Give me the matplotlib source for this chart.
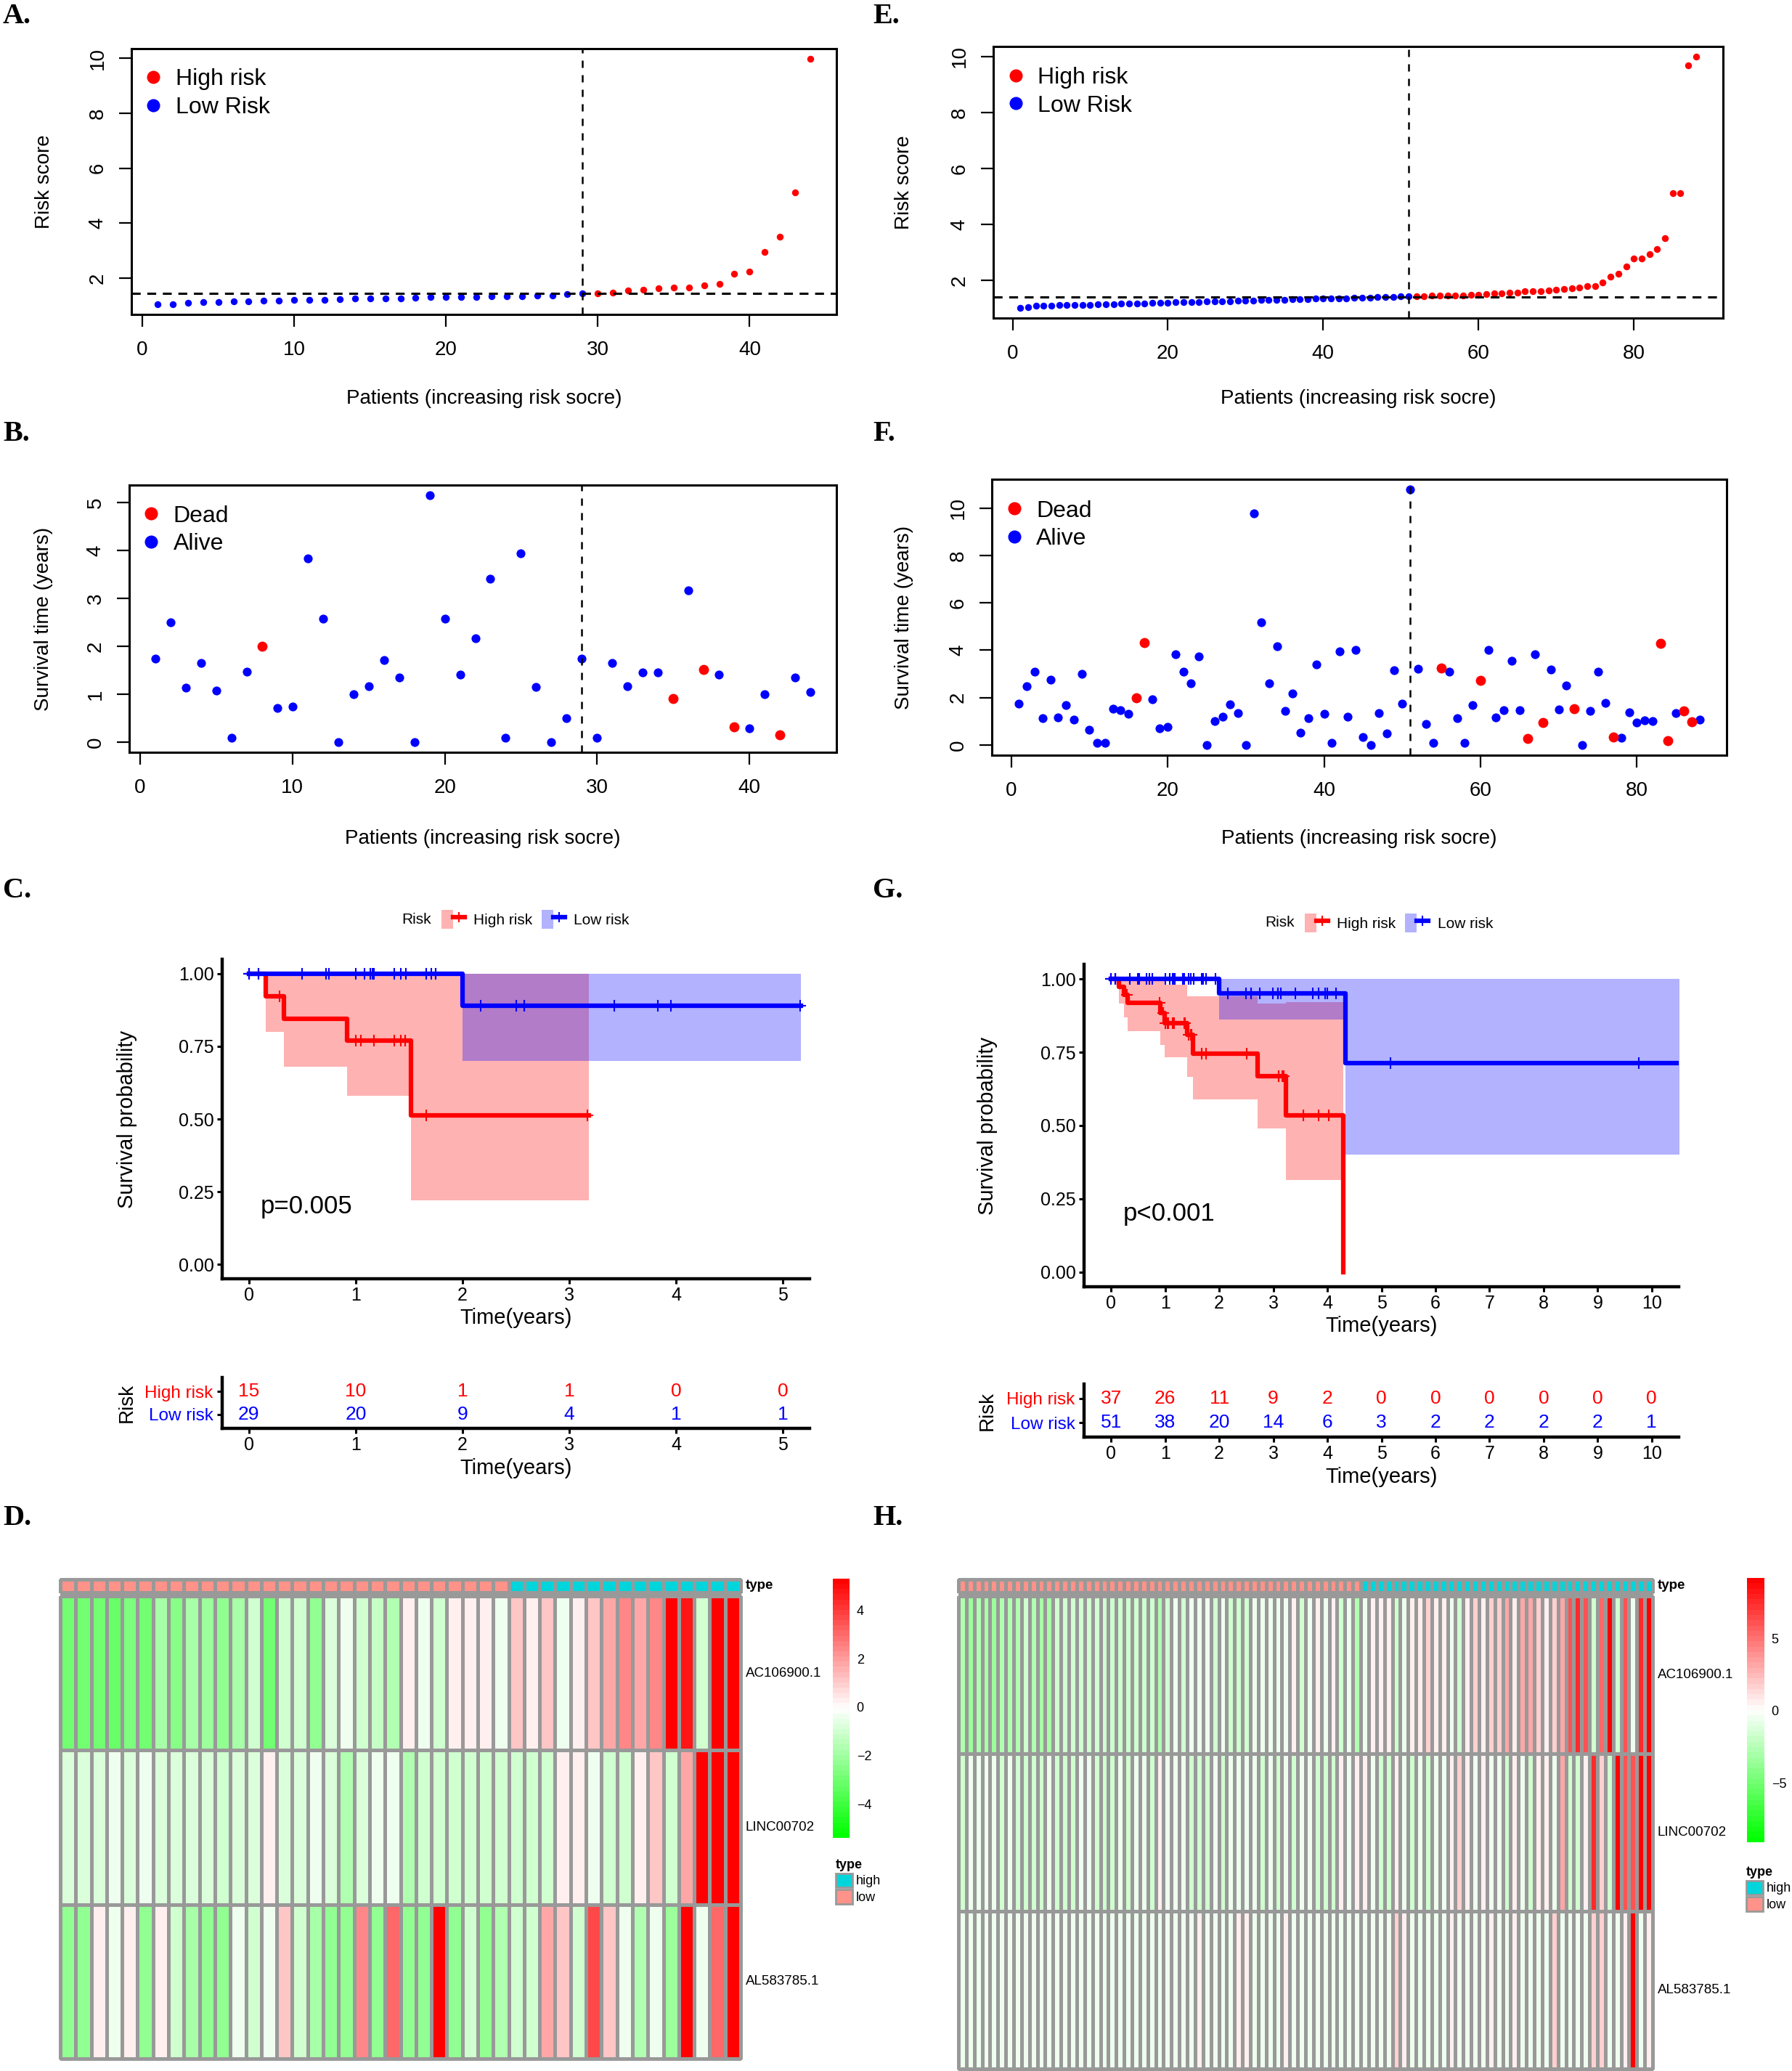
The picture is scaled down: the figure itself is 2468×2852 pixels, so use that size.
import numpy as np
import matplotlib

matplotlib.use("Agg")

import matplotlib.pyplot as plt
from matplotlib.colors import LinearSegmentedColormap, ListedColormap
from matplotlib.lines import Line2D
from matplotlib.patches import Patch
from matplotlib.legend_handler import HandlerTuple
from matplotlib.ticker import FormatStrFormatter

plt.rcParams["font.family"] = "Liberation Sans"

# ===========================
# VALUES
# ===========================

# A. training set: risk score per patient (sorted)
risk_a_low = [1.04, 1.05, 1.11, 1.12, 1.13, 1.15, 1.16, 1.19, 1.19, 1.20,
              1.20, 1.22, 1.23, 1.25, 1.26, 1.27, 1.27, 1.28, 1.31, 1.31,
              1.32, 1.32, 1.33, 1.34, 1.35, 1.36, 1.38, 1.41, 1.44]
risk_a_high = [1.46, 1.48, 1.56, 1.58, 1.63, 1.66, 1.66, 1.74, 1.80, 2.15,
               2.25, 2.96, 3.52, 5.13, 9.99]
cut_a = 1.44

# E. validation set: risk score per patient (sorted)
risk_e_low = [1.02, 1.04, 1.10, 1.11, 1.11, 1.12, 1.12, 1.13, 1.13, 1.14,
              1.15, 1.16, 1.16, 1.17, 1.18, 1.19, 1.19, 1.20, 1.21, 1.21,
              1.22, 1.23, 1.23, 1.24, 1.25, 1.25, 1.26, 1.27, 1.28, 1.29,
              1.29, 1.30, 1.31, 1.31, 1.32, 1.33, 1.33, 1.34, 1.35, 1.35,
              1.36, 1.37, 1.37, 1.38, 1.39, 1.39, 1.40, 1.41, 1.42, 1.43, 1.44]
risk_e_high = [1.45, 1.45, 1.46, 1.46, 1.46, 1.47, 1.47, 1.48, 1.50, 1.52,
               1.54, 1.55, 1.56, 1.58, 1.61, 1.63, 1.63, 1.64, 1.67, 1.70,
               1.73, 1.76, 1.79, 1.81, 1.92, 2.14, 2.25, 2.50, 2.78, 2.80,
               2.95, 3.12, 3.52, 5.12, 5.13, 9.68, 10.0]
cut_e = 1.42

# B. survival time (years), same patient order as A; dead = patient numbers
time_b = [1.75, 2.50, 1.14, 1.66, 1.08, 0.09, 1.47, 2.00, 0.72, 0.75,
          3.83, 2.58, 0.00, 1.00, 1.17, 1.71, 1.36, 0.00, 5.16, 2.58,
          1.42, 2.17, 3.42, 0.09, 3.95, 1.16, 0.00, 0.50, 1.75, 0.09,
          1.66, 1.17, 1.46, 1.46, 0.92, 3.17, 1.52, 1.42, 0.33, 0.29,
          1.00, 0.16, 1.36, 1.05]
dead_b = [8, 35, 37, 39, 42]

# F. survival time (years), same patient order as E
time_f = [1.75, 2.49, 3.09, 1.14, 2.75, 1.16, 1.67, 1.08, 2.99, 0.65,
          0.08, 0.08, 1.53, 1.47, 1.32, 2.00, 4.32, 1.93, 0.71, 0.76,
          3.84, 3.08, 2.59, 3.73, 0.00, 1.00, 1.18, 1.70, 1.35, 0.00,
          9.76, 5.17, 2.59, 4.16, 1.43, 2.16, 0.52, 1.14, 3.41, 1.32,
          0.08, 3.96, 1.18, 4.00, 0.35, 0.00, 1.34, 0.49, 3.14, 1.75,
          10.78, 3.20, 0.90, 0.08, 3.25, 3.10, 1.14, 0.08, 1.67, 2.73,
          4.02, 1.16, 1.47, 3.55, 1.47, 0.26, 3.84, 0.94, 3.17, 1.49,
          2.51, 1.53, 0.00, 1.43, 3.10, 1.76, 0.35, 0.29, 1.37, 0.96,
          1.05, 1.00, 4.30, 0.18, 1.35, 1.43, 0.99, 1.06]
dead_f = [16, 17, 55, 60, 66, 68, 72, 77, 83, 84, 86, 87]

# C. Kaplan-Meier steps with 95% CI (training set)
km_c_high_t = [0, 0.16, 0.33, 0.92, 1.52, 3.18]
km_c_high_s = [1.0, 0.923, 0.846, 0.769, 0.513, 0.513]
km_c_high_lo = [1.0, 0.80, 0.68, 0.58, 0.22, 0.22]
km_c_high_hi = [1.0, 1.0, 1.0, 1.0, 1.0, 1.0]
km_c_low_t = [0, 2.0, 5.17]
km_c_low_s = [1.0, 0.889, 0.889]
km_c_low_lo = [1.0, 0.70, 0.70]
km_c_low_hi = [1.0, 1.0, 1.0]
years_c = [0, 1, 2, 3, 4, 5]
at_risk_c_high = [15, 10, 1, 1, 0, 0]
at_risk_c_low = [29, 20, 9, 4, 1, 1]

# G. Kaplan-Meier steps with 95% CI (validation set)
km_g_high_t = [0, 0.14, 0.24, 0.31, 0.91, 0.99, 1.41, 1.52, 2.71, 3.24, 4.29]
km_g_high_s = [1.0, 0.973, 0.946, 0.919, 0.885, 0.850, 0.810, 0.745, 0.668, 0.534, 0.0]
km_g_high_lo = [1.0, 0.917, 0.869, 0.821, 0.776, 0.733, 0.666, 0.589, 0.490, 0.313, 0.313]
km_g_high_hi = [1.0, 1.0, 1.0, 1.0, 1.0, 0.98, 0.94, 0.94, 0.915, 0.92, 0.92]
km_g_low_t = [0, 2.0, 4.34, 10.78]
km_g_low_s = [1.0, 0.952, 0.714, 0.714]
km_g_low_lo = [1.0, 0.861, 0.401, 0.401]
km_g_low_hi = [1.0, 1.0, 1.0, 1.0]
years_g = [0, 1, 2, 3, 4, 5, 6, 7, 8, 9, 10]
at_risk_g_high = [37, 26, 11, 9, 2, 0, 0, 0, 0, 0, 0]
at_risk_g_low = [51, 38, 20, 14, 6, 3, 2, 2, 2, 2, 1]

# D / H. heatmap values per lncRNA (columns = patients in risk order)
genes = ["AC106900.1", "LINC00702", "AL583785.1"]
heat_d_ac = [-3.0, -3.0, -3.0, -3.1, -2.7, -3.0, -1.8, -2.6, -1.8, -2.0,
             -2.4, -1.9, -1.0, -3.0, -1.0, -1.0, -2.4, -0.9, -0.3, -1.0,
             -1.2, -1.7, 0.35, -0.3, -1.0, 0.35, 0.35, 0.35, -0.3, 1.05,
             0.35, 1.05, -0.3, 0.35, 1.05, 1.75, 2.5, 1.75, 2.5, 5.3,
             4.8, -1.0, 5.3, 5.3]
heat_d_linc = [-0.9, -0.9, -0.9, -0.3, -0.9, -0.3, -0.9, -0.9, -0.9, -0.9,
               -1.0, -0.9, -0.9, 0.35, -0.9, -0.9, -0.3, -0.9, -1.7, -0.9,
               -0.3, -0.3, -1.7, -1.0, -1.0, -1.0, -1.0, -1.0, -1.0, -1.0,
               -1.0, -1.0, 0.35, 0.35, -0.3, -1.0, -1.0, 0.35, 1.05, -1.0,
               1.75, 5.3, 5.3, 5.3]
heat_d_al = [-2.4, -2.4, 0.35, -0.3, 0.35, -2.4, 0.35, -1.0, -1.8, -2.4,
             -2.4, -0.3, -1.0, -0.3, 1.05, -1.0, -1.8, -2.4, -2.4, 2.5,
             -2.4, 3.0, -2.4, -2.4, 5.3, -2.4, -1.0, -2.4, -1.7, -1.0,
             -1.0, 1.75, 1.05, -1.0, 3.6, 1.05, -0.3, -1.7, -0.3, -2.0,
             5.3, -0.3, 3.0, 5.3]
type_d = ["low"] * 29 + ["high"] * 15

heat_h_ac = [-2.8, -3.6, -2.8, -3.1, -3.6, -2.8, -2.8, -2.8, -1.7, -2.8,
             -3.1, -3.1, -1.7, -1.7, -1.7, -1.7, -1.7, -1.7, -1.7, -1.7,
             -1.7, -1.7, -1.7, -1.7, -1.7, -2.8, -1.7, -0.5, -1.7, -0.5,
             -0.5, -0.5, -1.7, -0.5, -1.7, -1.7, -1.7, -0.5, -0.5, -0.5,
             -0.5, -0.5, 0.6, -1.7, -0.5, 0.6, -0.5, 0.6, -1.7, -0.5,
             -2.8, -0.5, 0.6, 0.6, 0.6, -1.7, -0.5, 0.6, 0.6, 1.8,
             0.6, 0.6, -0.5, -1.7, 0.6, 1.8, 0.6, 1.8, 1.8, 3.0,
             0.6, 3.0, 3.0, 1.8, 0.6, 1.8, 3.0, 6.1, 7.4, 6.1,
             -1.7, 5.5, 9.2, -1.7, 6.1, -0.5, 7.4, 9.2]
heat_h_linc = [-1.7, -0.5, -0.5, -0.5, -0.5, -1.7, -0.5, -1.7, -1.7, -1.7,
               -1.7, -0.5, -1.7, -1.7, -1.7, -0.5, -0.5, -1.7, -1.7, -1.7,
               -0.5, -1.7, -0.5, -0.5, -1.7, 0.6, -0.5, -0.5, -0.5, -1.7,
               -1.7, -1.7, -0.5, -1.7, -0.5, -0.5, -0.5, -0.5, -1.7, -0.5,
               -1.7, -0.5, -1.7, -0.5, -0.5, -1.7, -1.7, -1.7, 0.6, -0.5,
               0.6, 0.6, -0.5, -1.7, -1.7, 0.6, -0.5, -1.7, -0.5, -1.7,
               -0.5, -0.5, 0.6, 1.8, 0.6, -0.5, 0.6, -0.5, -0.5, -1.7,
               0.6, -0.5, -1.7, 0.6, 0.6, -0.5, 3.0, -1.7, -1.7, 0.6,
               7.4, 1.8, -1.7, 9.2, 6.1, 6.1, 9.2, 9.2]
heat_h_al = [-0.5, -0.5, -0.5, -0.5, -0.5, -0.5, -0.5, -0.5, -0.5, -0.5,
             -0.5, -0.5, -0.5, -0.5, -0.5, -0.5, -0.5, -0.5, -0.5, -0.5,
             -0.5, -0.5, -0.5, -0.5, -0.5, -0.5, -0.5, -0.5, -0.5, -0.5,
             0.6, -0.5, -0.5, -0.5, -0.5, 0.6, 0.6, -0.5, -0.5, -0.5,
             -0.5, 0.6, -0.5, -0.5, -0.5, -0.5, -0.5, -0.5, -0.5, -0.5,
             -0.5, -0.5, -0.5, -0.5, -0.5, 1.8, 0.6, -0.5, -0.5, -0.5,
             -0.5, -0.5, 0.6, -0.5, -0.5, -0.5, -0.5, 0.6, -0.5, -0.5,
             0.6, -0.5, -0.5, -0.5, -0.5, 1.8, -0.5, -0.5, -0.5, -0.5,
             1.8, 1.8, -0.5, -0.5, 0.6, 9.2, -0.5, 0.6]
type_h = ["low"] * 51 + ["high"] * 37

# ======
# STYLE
# ======
RED, BLUE = "#FF0000", "#0000FF"
SALMON, CYAN, GRID = "#FF9289", "#00D5DB", "#999999"
heat_cmap = LinearSegmentedColormap.from_list("gwr", ["#00FF00", "#FFFFFF", "#FF0000"], N=50)

W, H = 2468, 2852
fig = plt.figure(figsize=(W / 100, H / 100), dpi=100)


def add_ax(box):
    x0, y0, x1, y1 = box
    return fig.add_axes([x0 / W, 1 - y1 / H, (x1 - x0) / W, (y1 - y0) / H])


def frac_x(box, px):
    return (px - box[0]) / (box[2] - box[0])


def frac_y(box, py):
    return (box[3] - py) / (box[3] - box[1])


def panel_letter(px, py, letter):
    fig.text(px / W, 1 - py / H, letter, fontsize=29, fontweight="bold",
             family="Liberation Serif", va="baseline", ha="left")


# ==========================
# A, B, E, F: base-R scatter
# ==========================
def r_panel(box, groups, vline, hline, xticks, yticks, ylabel, legend_labels, ylab_px, xlab_py):
    ax = add_ax(box)
    for x, y, color, ms in groups:
        ax.plot(x, y, ls="none", marker="o", ms=ms, color=color, mec="none")
    ax.margins(0.04)
    ax.axvline(vline, color="black", lw=1.8, ls=(0, (4, 4)))
    if hline is not None:
        ax.axhline(hline, color="black", lw=2.2, ls=(0, (4, 3)))
    ax.set_xticks(xticks)
    ax.set_yticks(yticks)
    ax.tick_params(direction="out", length=12, width=1.6, labelsize=20, pad=14)
    ax.tick_params(axis="y", labelrotation=90, pad=12)
    for lab in ax.get_yticklabels():
        lab.set_va("center")
    for sp in ax.spines.values():
        sp.set_linewidth(2.2)
    ax.set_xlabel("Patients (increasing risk socre)", fontsize=20, va="center")
    ax.xaxis.set_label_coords(0.5, frac_y(box, xlab_py))
    ax.set_ylabel(ylabel, fontsize=20, va="center", ha="center")
    ax.yaxis.set_label_coords(frac_x(box, ylab_px), 0.5)
    handles = [Line2D([], [], ls="none", marker="o", ms=13, color=c, mec="none") for c in (RED, BLUE)]
    ax.legend(handles, legend_labels, loc="upper left", bbox_to_anchor=(0.018, 0.925),
              frameon=False, fontsize=23, handlelength=0.8, handletextpad=0.55,
              labelspacing=0.27, borderpad=0, borderaxespad=0)
    return ax


def risk_groups(low, high, ms):
    x_low = np.arange(1, len(low) + 1)
    x_high = np.arange(len(low) + 1, len(low) + len(high) + 1)
    return [(x_low, low, BLUE, ms), (x_high, high, RED, ms)]


def status_groups(times, dead):
    x = np.arange(1, len(times) + 1)
    t = np.array(times)
    is_dead = np.isin(x, dead)
    return [(x[~is_dead], t[~is_dead], BLUE, 8.8), (x[is_dead], t[is_dead], RED, 10)]


box_a = (181, 67, 1152, 433)
r_panel(box_a, risk_groups(risk_a_low, risk_a_high, 6.8), len(risk_a_low), cut_a,
        [0, 10, 20, 30, 40], [2, 4, 6, 8, 10], "Risk score", ["High risk", "Low Risk"], 61, 549)

box_e = (1368, 64, 2373, 438)
r_panel(box_e, risk_groups(risk_e_low, risk_e_high, 6.8), len(risk_e_low), cut_e,
        [0, 20, 40, 60, 80], [2, 4, 6, 8, 10], "Risk score", ["High risk", "Low Risk"], 1245, 549)

box_b = (178, 668, 1152, 1036)
r_panel(box_b, status_groups(time_b, dead_b), len(risk_a_low), None,
        [0, 10, 20, 30, 40], [0, 1, 2, 3, 4, 5], "Survival time (years)", ["Dead", "Alive"], 60, 1155)

box_f = (1366, 660, 2378, 1040)
r_panel(box_f, status_groups(time_f, dead_f), len(risk_e_low), None,
        [0, 20, 40, 60, 80], [0, 2, 4, 6, 8, 10], "Survival time (years)", ["Dead", "Alive"], 1245, 1155)


# ===========================
# C, G: Kaplan-Meier + table
# ===========================
def step_at(t, s, q):
    idx = np.searchsorted(t, q, side="right") - 1
    return np.asarray(s)[idx]


def km_style(ax):
    for side in ("top", "right"):
        ax.spines[side].set_visible(False)
    for side in ("left", "bottom"):
        ax.spines[side].set_linewidth(3.2)
    ax.tick_params(direction="out", length=5, width=2.2, labelsize=18, pad=3)


def km_panel(main_box, table_box, xlim, years, curves, at_risk, pval, risk_x, key_x, key_y):
    ax = add_ax(main_box)
    for c in curves:
        ax.fill_between(c["t"], c["lo"], c["hi"], step="post", color=c["color"], alpha=0.3, lw=0)
    for c in curves:
        ax.step(c["t"], c["s"], where="post", color=c["color"], lw=4.5)
        ax.plot(c["cens"], step_at(c["t"], c["s"], c["cens"]), ls="none", marker="+",
                ms=11, mew=1.5, color=c["color"])
    ax.set_xlim(xlim)
    ax.set_ylim(-0.05, 1.05)
    ax.set_xticks(years)
    ax.set_yticks([0, 0.25, 0.5, 0.75, 1.0])
    ax.yaxis.set_major_formatter(FormatStrFormatter("%.2f"))
    km_style(ax)
    ax.text(0.065, 0.2, pval, transform=ax.get_yaxis_transform(), fontsize=25, va="center")
    ax.set_xlabel("Time(years)", fontsize=21, va="center")
    ax.xaxis.set_label_coords(0.5, -0.122)
    ax.set_ylabel("Survival probability", fontsize=21, va="center", ha="center")
    ax.yaxis.set_label_coords(frac_x(main_box, risk_x), 0.5)

    # legend above the curves
    fig.text((key_x - 14) / W, 1 - key_y / H, "Risk", fontsize=15, ha="right", va="center")
    handles = [(Patch(color=c["color"], alpha=0.3, lw=0),
                Line2D([], [], color=c["color"], lw=4.5, marker="+", ms=10, mew=1.5))
               for c in curves]
    fig.legend(handles, [c["name"] for c in curves], handler_map={tuple: HandlerTuple(ndivide=None)},
               loc="center left", bbox_to_anchor=(key_x / W, 1 - key_y / H), ncol=2,
               frameon=False, fontsize=15, handlelength=1.54, handleheight=1.6,
               handletextpad=0.58, columnspacing=0.62, borderpad=0, borderaxespad=0)

    # number at risk table
    axt = add_ax(table_box)
    axt.set_xlim(xlim)
    axt.set_ylim(0.4, 2.6)
    for level, counts, color in ((2, at_risk[0], RED), (1, at_risk[1], BLUE)):
        for t, n in zip(years, counts):
            axt.text(t, level, str(n), ha="center", va="center", color=color, fontsize=19)
    axt.set_xticks(years)
    axt.set_yticks([1, 2])
    axt.set_yticklabels(["Low risk", "High risk"])
    km_style(axt)
    axt.tick_params(axis="y", labelsize=17.5, pad=4)
    for lab, color in zip(axt.get_yticklabels(), (BLUE, RED)):
        lab.set_color(color)
    axt.set_xlabel("Time(years)", fontsize=21, va="center")
    axt.xaxis.set_label_coords(0.5, frac_y(table_box, table_box[3] + 55))
    axt.set_ylabel("Risk", fontsize=20, va="center", ha="center")
    axt.yaxis.set_label_coords(frac_x(table_box, risk_x), 0.5)


def alive_times(times, dead, first, last):
    return [times[i - 1] for i in range(first, last + 1) if i not in dead]


n_a = len(risk_a_low)
curves_c = [
    dict(name="High risk", color=RED, t=km_c_high_t, s=km_c_high_s, lo=km_c_high_lo, hi=km_c_high_hi,
         cens=alive_times(time_b, dead_b, n_a + 1, len(time_b))),
    dict(name="Low risk", color=BLUE, t=km_c_low_t, s=km_c_low_s, lo=km_c_low_lo, hi=km_c_low_hi,
         cens=alive_times(time_b, dead_b, 1, n_a)),
]
km_panel((306, 1321, 1115, 1761), (306, 1897, 1115, 1967), (-0.25, 5.25), years_c, curves_c,
         (at_risk_c_high, at_risk_c_low), "p=0.005", 175, 608, 1266)

n_e = len(risk_e_low)
curves_g = [
    dict(name="High risk", color=RED, t=km_g_high_t, s=km_g_high_s, lo=km_g_high_lo, hi=km_g_high_hi,
         cens=alive_times(time_f, dead_f, n_e + 1, len(time_f))),
    dict(name="Low risk", color=BLUE, t=km_g_low_t, s=km_g_low_s, lo=km_g_low_lo, hi=km_g_low_hi,
         cens=alive_times(time_f, dead_f, 1, n_e)),
]
km_panel((1493, 1328, 2312, 1772), (1493, 1906, 2312, 1979), (-0.5, 10.5), years_g, curves_g,
         (at_risk_g_high, at_risk_g_low), "p<0.001", 1360, 1797, 1271)


# ===============
# D, H: heatmaps
# ===============
def heat_panel(ann_box, hm_box, rows, types, vmin, vmax, cbar_box, cbar_ticks, legend_xy):
    vals = np.array(rows)
    ncol = vals.shape[1]
    ax = add_ax(hm_box)
    mesh = ax.pcolormesh(vals, cmap=heat_cmap, vmin=vmin, vmax=vmax, edgecolors=GRID, linewidth=2.2)
    mesh.set_clip_on(False)
    ax.set_xlim(0, ncol)
    ax.set_ylim(len(rows), 0)
    ax.axis("off")
    for i, name in enumerate(genes):
        ax.annotate(name, xy=(1, i + 0.5), xycoords=("axes fraction", "data"), xytext=(7, 0),
                    textcoords="offset pixels", va="center", ha="left", fontsize=13.5)

    axa = add_ax(ann_box)
    codes = np.array([[0 if t == "low" else 1 for t in types]])
    ann = axa.pcolormesh(codes, cmap=ListedColormap([SALMON, CYAN]), vmin=0, vmax=1,
                         edgecolors=GRID, linewidth=2.2)
    ann.set_clip_on(False)
    axa.set_xlim(0, ncol)
    axa.axis("off")
    axa.annotate("type", xy=(1, 0.5), xycoords="axes fraction", xytext=(7, 0), textcoords="offset pixels",
                 va="center", ha="left", fontsize=13.5, fontweight="bold")

    cax = add_ax(cbar_box)
    cb = fig.colorbar(mesh, cax=cax, ticks=cbar_ticks)
    cb.outline.set_visible(False)
    cax.tick_params(length=0, labelsize=13, pad=7)

    handles = [Patch(facecolor=CYAN, edgecolor=GRID, lw=2), Patch(facecolor=SALMON, edgecolor=GRID, lw=2)]
    fig.legend(handles, ["high", "low"], title="type", loc="upper left",
               bbox_to_anchor=(legend_xy[0] / W, 1 - legend_xy[1] / H), frameon=False, fontsize=13,
               title_fontproperties={"weight": "bold", "size": 13}, alignment="left",
               handlelength=1.28, handleheight=1.28, handletextpad=0.25, labelspacing=0.15,
               borderpad=0, borderaxespad=0)


heat_panel((83, 2175, 1020, 2193), (83, 2198, 1020, 2835), [heat_d_ac, heat_d_linc, heat_d_al], type_d,
           -5.4, 5.3, (1147, 2174, 1170, 2531), [-4, -2, 0, 2, 4], (1151, 2560))
heat_panel((1320, 2175, 2276, 2193), (1320, 2198, 2276, 2849), [heat_h_ac, heat_h_linc, heat_h_al], type_h,
           -9.1, 9.2, (2406, 2173, 2430, 2537), [-5, 0, 5], (2405, 2570))

# ==============
# PANEL LETTERS
# ==============
for px, py, letter in [(4, 32, "A."), (1202, 32, "E."), (4, 607, "B."), (1202, 607, "F."),
                       (4, 1236, "C."), (1202, 1236, "G."), (4, 2100, "D."), (1202, 2100, "H.")]:
    panel_letter(px, py, letter)

fig.savefig("out.png", dpi=100)
